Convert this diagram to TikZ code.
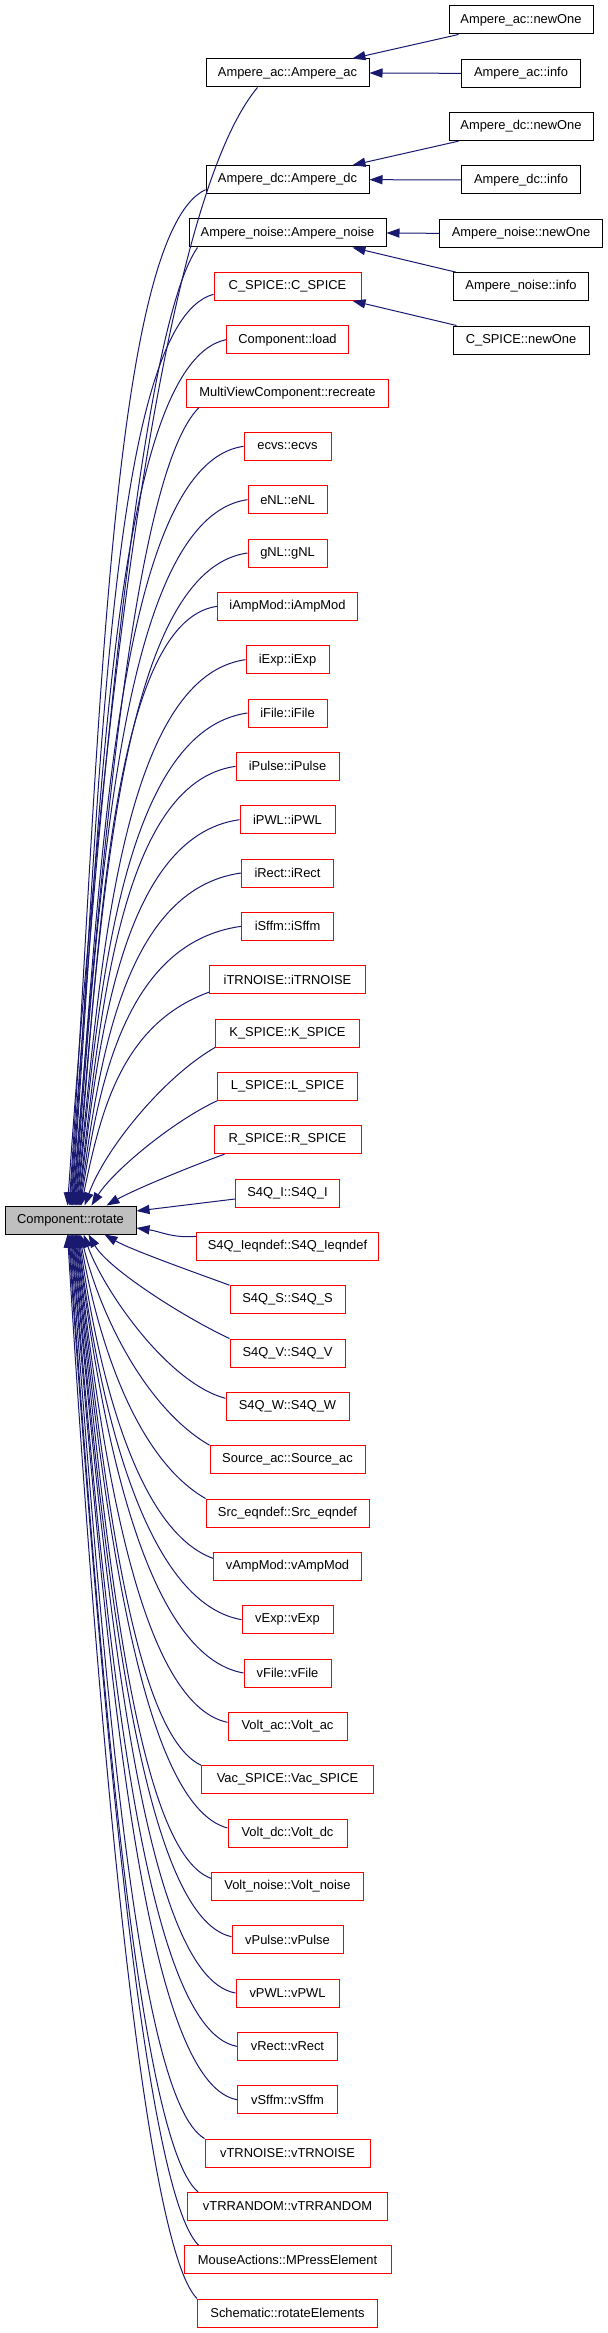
\documentclass[tikz,border=0pt]{standalone}
\usepackage{fontspec}
\setmainfont{Liberation Sans}
\usetikzlibrary{arrows.meta,calc}
\definecolor{edgecol}{HTML}{191970}
\definecolor{rotgray}{HTML}{BFBFBF}
\begin{document}
\begin{tikzpicture}[x=0.25pt,y=0.25pt,
  box/.style={draw=black,line width=0.25pt,minimum height=7pt,inner sep=0pt,
    font=\fontsize{3.225}{3.6}\selectfont,anchor=center},
  redbox/.style={box,draw=red},
  edge/.style={draw=edgecol,line width=0.25pt,-{Triangle[length=3.25pt,width=2.3pt]}}]
\useasboundingbox (0,0) rectangle (608,-2333);

% target node
\node[box,fill=rotgray,minimum width=32.75pt] (rot) at (70.5,-1220) {Component::rotate};

% main column
\foreach \r/\w/\st/\t in {
 1/163/box/{Ampere\_ac::Ampere\_ac},
 3/163/box/{Ampere\_dc::Ampere\_dc},
 4/197/box/{Ampere\_noise::Ampere\_noise},
 5/147/redbox/{C\_SPICE::C\_SPICE},
 6/122/redbox/{Component::load},
 7/202/redbox/{MultiViewComponent::recreate},
 8/87/redbox/{ecvs::ecvs},
 9/79/redbox/{eNL::eNL},
 10/79/redbox/{gNL::gNL},
 11/140/redbox/{iAmpMod::iAmpMod},
 12/83/redbox/{iExp::iExp},
 13/79/redbox/{iFile::iFile},
 14/103/redbox/{iPulse::iPulse},
 15/95/redbox/{iPWL::iPWL},
 16/92/redbox/{iRect::iRect},
 17/92/redbox/{iSffm::iSffm},
 18/156/redbox/{iTRNOISE::iTRNOISE},
 19/144/redbox/{K\_SPICE::K\_SPICE},
 20/140/redbox/{L\_SPICE::L\_SPICE},
 21/147/redbox/{R\_SPICE::R\_SPICE},
 22/104/redbox/{S4Q\_I::S4Q\_I},
 23/182/redbox/{S4Q\_Ieqndef::S4Q\_Ieqndef},
 24/115/redbox/{S4Q\_S::S4Q\_S},
 25/115/redbox/{S4Q\_V::S4Q\_V},
 26/123/redbox/{S4Q\_W::S4Q\_W},
 27/155/redbox/{Source\_ac::Source\_ac},
 28/163/redbox/{Src\_eqndef::Src\_eqndef},
 29/148/redbox/{vAmpMod::vAmpMod},
 30/91/redbox/{vExp::vExp},
 31/87/redbox/{vFile::vFile},
 32/119/redbox/{Volt\_ac::Volt\_ac},
 33/172/redbox/{Vac\_SPICE::Vac\_SPICE},
 34/119/redbox/{Volt\_dc::Volt\_dc},
 35/152/redbox/{Volt\_noise::Volt\_noise},
 36/111/redbox/{vPulse::vPulse},
 37/103/redbox/{vPWL::vPWL},
 38/100/redbox/{vRect::vRect},
 39/100/redbox/{vSffm::vSffm},
 40/165/redbox/{vTRNOISE::vTRNOISE},
 41/200/redbox/{vTRRANDOM::vTRRANDOM},
 42/207/redbox/{MouseActions::MPressElement},
 43/180/redbox/{Schematic::rotateElements}}
 \node[\st,minimum width={\w*0.25}] (n\r) at (287.5,{-73-53.3333*(\r-1)}) {\t};

% right column
\foreach \r/\w/\t in {
 0/144/{Ampere\_ac::newOne},
 1/119/{Ampere\_ac::info},
 2/144/{Ampere\_dc::newOne},
 3/119/{Ampere\_dc::info},
 4/163/{Ampere\_noise::newOne},
 5/135/{Ampere\_noise::info},
 6/136/{C\_SPICE::newOne}}
 \node[box,minimum width={\w*0.25}] (m\r) at (521,{-20-53.3333*\r}) {\t};

% right column edges
\draw[edge] ([xshift=2.5pt]m0.south west) -- ([xshift=-4.25pt]n1.north east);
\draw[edge] (m1.west) -- (n1.east);
\draw[edge] ([xshift=2.5pt]m2.south west) -- ([xshift=-4.25pt]n3.north east);
\draw[edge] (m3.west) -- (n3.east);
\draw[edge] (m4.west) -- (n4.east);
\draw[edge] ([xshift=0.75pt]m5.north west) -- ([xshift=-8.5pt]n4.south east);
\draw[edge] ([xshift=1pt]m6.north west) -- ([xshift=-2.25pt]n5.south east);

% edges into the top of Component::rotate
\draw[edge] ([xshift=13pt]n1.south west) to[out=230,in=86,out distance=38pt,in distance=120pt] ([xshift=15.75pt]rot.north west);
\draw[edge] ([yshift=-2.5pt]n3.west) to[out=205,in=86,out distance=27pt,in distance=105pt] ([xshift=16.15pt]rot.north west);
\draw[edge] ([xshift=2.25pt]n4.south west) to[out=235,in=86,out distance=25pt,in distance=98pt] ([xshift=16.35pt]rot.north west);
\draw[edge] ([yshift=-2pt]n5.west) to[out=195,in=85.5,out distance=28pt,in distance=92pt] ([xshift=16.55pt]rot.north west);
\draw[edge] (n6.west) to[out=192,in=85.5,out distance=30pt,in distance=87pt] ([xshift=16.75pt]rot.north west);
\draw[edge] ([xshift=3.25pt]n7.south west) to[out=225,in=85,out distance=24pt,in distance=80pt] ([xshift=16.95pt]rot.north west);
\draw[edge] (n8.west) to[out=188,in=85,out distance=33pt,in distance=76pt] ([xshift=17.15pt]rot.north west);
\draw[edge] (n9.west) to[out=188,in=85,out distance=33.5pt,in distance=70.5pt] ([xshift=17.35pt]rot.north west);
\draw[edge] (n10.west) to[out=188,in=84.5,out distance=33.5pt,in distance=65.25pt] ([xshift=17.55pt]rot.north west);
\draw[edge] (n11.west) to[out=188,in=84.5,out distance=27.5pt,in distance=60pt] ([xshift=17.75pt]rot.north west);
\draw[edge] (n12.west) to[out=188,in=84,out distance=32.5pt,in distance=54.5pt] ([xshift=17.95pt]rot.north west);
\draw[edge] (n13.west) to[out=188,in=84,out distance=32.5pt,in distance=49.25pt] ([xshift=18.15pt]rot.north west);
\draw[edge] (n14.west) to[out=188,in=83,out distance=30pt,in distance=44pt] ([xshift=18.35pt]rot.north west);
\draw[edge] (n15.west) to[out=188,in=83,out distance=30.5pt,in distance=38.5pt] ([xshift=18.55pt]rot.north west);
\draw[edge] (n16.west) to[out=188,in=82,out distance=30.5pt,in distance=33.25pt] ([xshift=18.75pt]rot.north west);
\draw[edge] (n17.west) to[out=188,in=81,out distance=30.25pt,in distance=28pt] ([xshift=18.95pt]rot.north west);
\draw[edge] ([yshift=0.5pt]n18.south west) to[out=200,in=78,out distance=24pt,in distance=22.5pt] ([xshift=19.15pt]rot.north west);
\draw[edge] (n19.south west) to[out=210,in=70,out distance=15pt,in distance=15pt] ([xshift=20pt]rot.north west);
\draw[edge] (n20.south west) to[out=205,in=58,out distance=12.5pt,in distance=10pt] ([xshift=21.75pt]rot.north west);
\draw[edge] ([xshift=2.75pt]n21.south west) to[out=200,in=30,out distance=10pt,in distance=7.5pt] ([xshift=25.5pt]rot.north west);

% edges into the right side
\draw[edge] ([yshift=-1.5pt]n22.west) -- ([yshift=2.25pt]rot.east);
\draw[edge] ([yshift=2.5pt]n23.west) to[out=185,in=-8] ([yshift=-2pt]rot.east);

% edges into the bottom of Component::rotate
\draw[edge] (n24.north west) to[out=160,in=-30,out distance=10pt,in distance=7.5pt] ([xshift=25pt]rot.south west);
\draw[edge] (n25.north west) to[out=155,in=-60,out distance=12.5pt,in distance=10pt] ([xshift=21pt]rot.south west);
\draw[edge] ([yshift=2pt]n26.west) to[out=165,in=-70,out distance=15pt,in distance=15pt] ([xshift=19.75pt]rot.south west);
\draw[edge] (n27.north west) to[out=150,in=-76,out distance=17.5pt,in distance=22.5pt] ([xshift=19pt]rot.south west);
\draw[edge] (n28.north west) to[out=150,in=-80,out distance=19pt,in distance=30pt] ([xshift=18.75pt]rot.south west);
\draw[edge] ([yshift=2pt]n29.west) to[out=160,in=-82,out distance=20pt,in distance=36.25pt] ([xshift=18.55pt]rot.south west);
\draw[edge] (n30.west) to[out=170,in=-83,out distance=24.5pt,in distance=43.5pt] ([xshift=18.35pt]rot.south west);
\draw[edge] (n31.west) to[out=170,in=-83,out distance=25pt,in distance=49.5pt] ([xshift=18.15pt]rot.south west);
\draw[edge] ([yshift=1pt]n32.west) to[out=168,in=-83.5,out distance=22.75pt,in distance=55pt] ([xshift=17.95pt]rot.south west);
\draw[edge] (n33.north west) to[out=155,in=-83.5,out distance=19pt,in distance=60pt] ([xshift=17.75pt]rot.south west);
\draw[edge] ([yshift=1.25pt]n34.west) to[out=165,in=-84,out distance=23pt,in distance=66.75pt] ([xshift=17.55pt]rot.south west);
\draw[edge] ([yshift=2pt]n35.west) to[out=160,in=-84,out distance=20.75pt,in distance=72.5pt] ([xshift=17.35pt]rot.south west);
\draw[edge] ([yshift=0.75pt]n36.west) to[out=168,in=-84.5,out distance=23.75pt,in distance=79pt] ([xshift=17.15pt]rot.south west);
\draw[edge] (n37.west) to[out=170,in=-84.5,out distance=24.5pt,in distance=85.25pt] ([xshift=16.95pt]rot.south west);
\draw[edge] (n38.west) to[out=170,in=-85,out distance=25pt,in distance=91.25pt] ([xshift=16.75pt]rot.south west);
\draw[edge] (n39.west) to[out=170,in=-85,out distance=25pt,in distance=97.25pt] ([xshift=16.55pt]rot.south west);
\draw[edge] (n40.north west) to[out=150,in=-85.5,out distance=20.25pt,in distance=102pt] ([xshift=16.35pt]rot.south west);
\draw[edge] ([xshift=2.75pt]n41.north west) to[out=140,in=-86,out distance=19.5pt,in distance=108pt] ([xshift=16.15pt]rot.south west);
\draw[edge] ([xshift=3.75pt]n42.north west) to[out=135,in=-86,out distance=19.5pt,in distance=113.75pt] ([xshift=15.95pt]rot.south west);
\draw[edge] (n43.north west) to[out=135,in=-86.5,out distance=19.25pt,in distance=119.75pt] ([xshift=15.75pt]rot.south west);
\end{tikzpicture}
\end{document}
